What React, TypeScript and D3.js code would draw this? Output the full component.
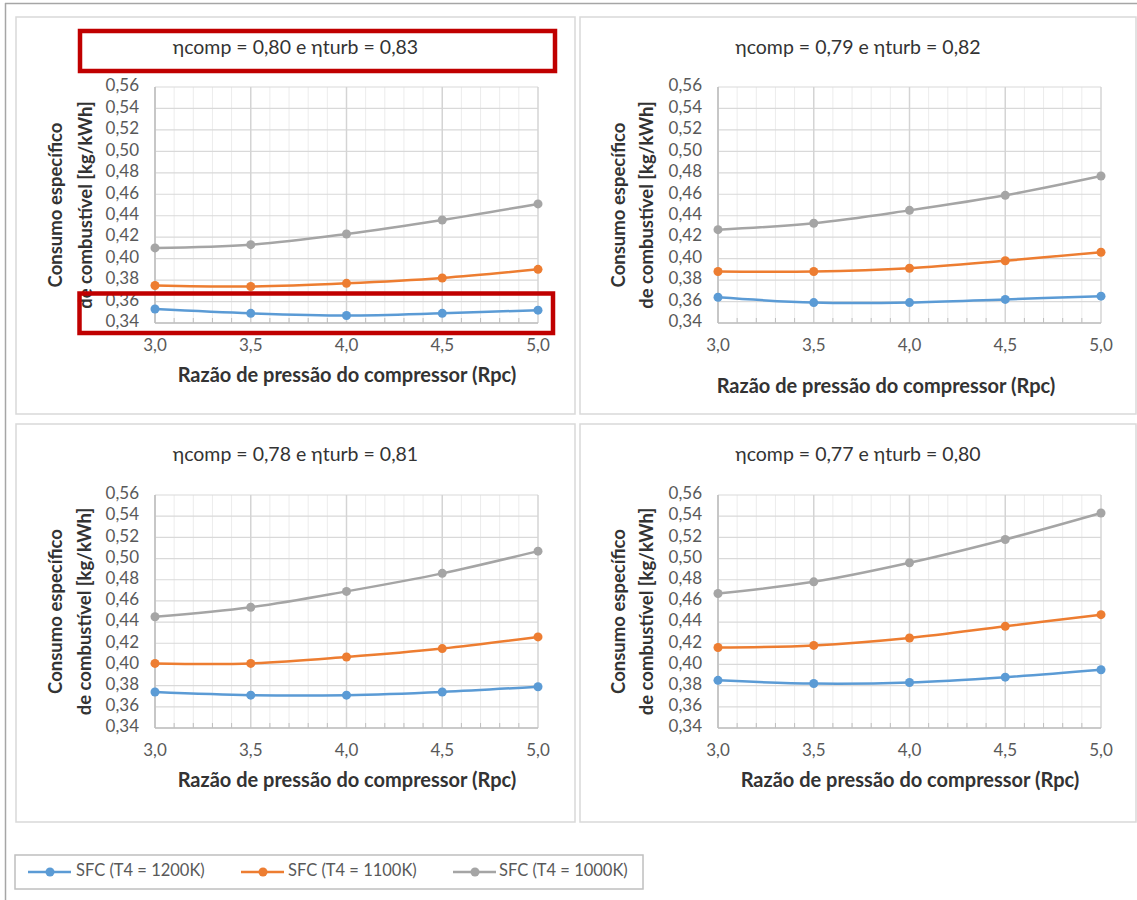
import React from "react";
import * as d3 from "d3";

// ---------- data ----------
const rpc = [3.0, 3.5, 4.0, 4.5, 5.0];
const xTicks = [3.0, 3.5, 4.0, 4.5, 5.0];
const xMinor = [3.1, 3.2, 3.3, 3.4, 3.6, 3.7, 3.8, 3.9, 4.1, 4.2, 4.3, 4.4, 4.6, 4.7, 4.8, 4.9];
const yTicks = [0.34, 0.36, 0.38, 0.4, 0.42, 0.44, 0.46, 0.48, 0.5, 0.52, 0.54, 0.56];
const panelTitles = [
  "ηcomp = 0,80 e ηturb = 0,83",
  "ηcomp = 0,79 e ηturb = 0,82",
  "ηcomp = 0,78 e ηturb = 0,81",
  "ηcomp = 0,77 e ηturb = 0,80",
];
const sfc1200 = [
  [0.353, 0.349, 0.347, 0.349, 0.352],
  [0.364, 0.359, 0.359, 0.362, 0.365],
  [0.374, 0.371, 0.371, 0.374, 0.379],
  [0.385, 0.382, 0.383, 0.388, 0.395],
];
const sfc1100 = [
  [0.375, 0.374, 0.377, 0.382, 0.390],
  [0.388, 0.388, 0.391, 0.398, 0.406],
  [0.401, 0.401, 0.407, 0.415, 0.426],
  [0.416, 0.418, 0.425, 0.436, 0.447],
];
const sfc1000 = [
  [0.410, 0.413, 0.423, 0.436, 0.451],
  [0.427, 0.433, 0.445, 0.459, 0.477],
  [0.445, 0.454, 0.469, 0.486, 0.507],
  [0.467, 0.478, 0.496, 0.518, 0.543],
];
const seriesNames = ["SFC (T4 = 1200K)", "SFC (T4 = 1100K)", "SFC (T4 = 1000K)"];
const seriesColors = ["#5b9bd5", "#ed7d31", "#a5a5a5"];
const xTitle = "Razão de pressão do compressor (Rpc)";
const yTitle1 = "Consumo específico";
const yTitle2 = "de combustível [kg/kWh]";

// ---------- layout ----------
const layouts = [
  { bx: 16, by: 17, bw: 559, bh: 397, px: 155, py: 87, pw: 383, ph: 236, tx: 295.5, ty: 49, yt1: 57, yt2: 87, xtl: 347, xtx: 347, xty: 377 },
  { bx: 580, by: 17, bw: 556, bh: 397, px: 718, py: 87, pw: 383, ph: 236, tx: 858, ty: 49, yt1: 620, yt2: 648, xtl: 347, xtx: 886, xty: 388 },
  { bx: 16, by: 424, bw: 559, bh: 398, px: 155, py: 495, pw: 383, ph: 233, tx: 295.5, ty: 456, yt1: 57, yt2: 86, xtl: 752, xtx: 347, xty: 782 },
  { bx: 580, by: 424, bw: 556, bh: 398, px: 718, py: 495, pw: 383, ph: 233, tx: 858, ty: 456, yt1: 620, yt2: 648, xtl: 752, xtx: 910, xty: 782 },
];

const FONT = "Lato, 'Open Sans', sans-serif";

function Panel({ i }: { i: number }) {
  const L = layouts[i];
  const x = d3.scaleLinear().domain([3.0, 5.0]).range([L.px, L.px + L.pw]);
  const y = d3.scaleLinear().domain([0.34, 0.56]).range([L.py + L.ph, L.py]);
  const series = [sfc1200[i], sfc1100[i], sfc1000[i]];
  const line = d3
    .line<number>()
    .x((_, k) => x(rpc[k]))
    .y((v) => y(v))
    .curve(d3.curveCatmullRom.alpha(0.5));
  const fmtY = (v: number) => v.toFixed(2).replace(".", ",");
  const fmtX = (v: number) => v.toFixed(1).replace(".", ",");
  const cy = L.py + L.ph / 2;
  return (
    <g>
      <rect x={L.bx} y={L.by} width={L.bw} height={L.bh} fill="#fff" stroke="#d9d9d9" strokeWidth={1.5} />
      <text x={L.tx} y={L.ty} textAnchor="middle" dominantBaseline="middle" fontFamily={FONT} fontSize={19.5} fill="#333">
        {panelTitles[i]}
      </text>
      {/* minor vertical grid */}
      {xMinor.map((v) => (
        <line key={"mv" + v} x1={x(v)} x2={x(v)} y1={L.py} y2={L.py + L.ph} stroke="#ececec" strokeWidth={1} />
      ))}
      {/* horizontal grid */}
      {yTicks.map((v) => (
        <line key={"h" + v} x1={L.px} x2={L.px + L.pw} y1={y(v)} y2={y(v)} stroke="#d9d9d9" strokeWidth={1.2} />
      ))}
      {/* major vertical grid */}
      {xTicks.map((v) => (
        <line key={"v" + v} x1={x(v)} x2={x(v)} y1={L.py} y2={L.py + L.ph} stroke="#d4d4d4" strokeWidth={1.5} />
      ))}
      {/* minor tick marks */}
      {xMinor.map((v) => (
        <line key={"mt" + v} x1={x(v)} x2={x(v)} y1={L.py + L.ph - 5} y2={L.py + L.ph} stroke="#bfbfbf" strokeWidth={1} />
      ))}
      <line x1={L.px} x2={L.px + L.pw} y1={L.py + L.ph} y2={L.py + L.ph} stroke="#bfbfbf" strokeWidth={1.5} />
      <line x1={L.px} x2={L.px} y1={L.py} y2={L.py + L.ph} stroke="#bfbfbf" strokeWidth={1.5} />
      {/* y tick labels */}
      {yTicks.map((v) => (
        <text key={"yl" + v} x={L.px - 16} y={y(v)} textAnchor="end" dominantBaseline="middle" fontFamily={FONT} fontSize={17} fill="#595959">
          {fmtY(v)}
        </text>
      ))}
      {/* x tick labels */}
      {xTicks.map((v) => (
        <text key={"xl" + v} x={x(v)} y={L.xtl} textAnchor="middle" dominantBaseline="middle" fontFamily={FONT} fontSize={17} fill="#595959">
          {fmtX(v)}
        </text>
      ))}
      {/* axis titles */}
      <text x={L.xtx} y={L.xty} textAnchor="middle" dominantBaseline="middle" fontFamily={FONT} fontWeight="bold" fontSize={20} fill="#333">
        {xTitle}
      </text>
      <text transform={`translate(${L.yt1},${cy}) rotate(-90)`} textAnchor="middle" dominantBaseline="middle" fontFamily={FONT} fontWeight="bold" fontSize={18.5} fill="#333">
        {yTitle1}
      </text>
      <text transform={`translate(${L.yt2},${cy}) rotate(-90)`} textAnchor="middle" dominantBaseline="middle" fontFamily={FONT} fontWeight="bold" fontSize={18.5} fill="#333">
        {yTitle2}
      </text>
      {/* series */}
      {series.map((vals, s) => (
        <g key={"s" + s}>
          <path d={line(vals) || ""} fill="none" stroke={seriesColors[s]} strokeWidth={2.5} />
          {vals.map((v, k) => (
            <circle key={k} cx={x(rpc[k])} cy={y(v)} r={4.5} fill={seriesColors[s]} />
          ))}
        </g>
      ))}
    </g>
  );
}

function Legend() {
  const items = [
    { lx: 28, tx: 76 },
    { lx: 241, tx: 288 },
    { lx: 453, tx: 499 },
  ];
  const yc = 872;
  return (
    <g>
      <rect x={15} y={855} width={628} height={34} fill="#fff" stroke="#bfbfbf" strokeWidth={1.5} />
      {items.map((it, s) => (
        <g key={s}>
          <line x1={it.lx} x2={it.lx + 43} y1={yc} y2={yc} stroke={seriesColors[s]} strokeWidth={2.5} />
          <circle cx={it.lx + 22} cy={yc} r={4.5} fill={seriesColors[s]} />
          <text x={it.tx} y={yc} dominantBaseline="middle" fontFamily={FONT} fontSize={16.5} fill="#595959">
            {seriesNames[s]}
          </text>
        </g>
      ))}
    </g>
  );
}

export default function App() {
  return (
    <svg width={1137} height={900} style={{ position: "absolute", left: 0, top: 0, background: "#fff" }}>
      <rect x={0} y={0} width={1137} height={900} fill="#fff" />
      {/* outer frame */}
      <line x1={5} x2={1137} y1={3.5} y2={3.5} stroke="#a6a6a6" strokeWidth={1.5} />
      <line x1={5.5} x2={5.5} y1={3} y2={900} stroke="#a6a6a6" strokeWidth={1.5} />
      {layouts.map((_, i) => (
        <Panel key={i} i={i} />
      ))}
      <Legend />
      {/* red highlight boxes */}
      <rect x={80} y={31} width={475} height={40} fill="none" stroke="#c00000" strokeWidth={4.5} />
      <rect x={79.5} y={293.5} width={473.5} height={39.5} fill="none" stroke="#c00000" strokeWidth={4.5} />
    </svg>
  );
}
